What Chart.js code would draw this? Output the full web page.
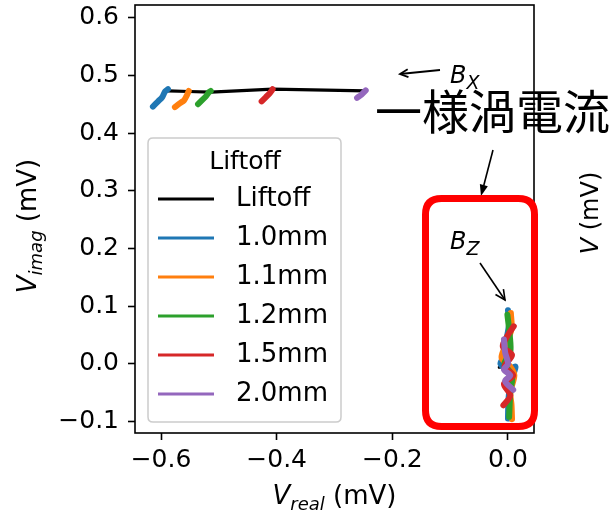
<!DOCTYPE html>
<html><head><meta charset="utf-8">
<script src="https://cdn.jsdelivr.net/npm/chart.js@4.4.0/dist/chart.umd.min.js"></script>
<style>html,body{margin:0;padding:0;background:#fff;} #wrap{width:615px;height:512px;position:relative;}</style>
</head><body><div id="wrap"><canvas id="c" width="615" height="512"></canvas></div>
<script>
// ---- data ----
const seriesNames = ['1.0mm','1.1mm','1.2mm','1.5mm','2.0mm'];
const seriesColors = ['#1f77b4','#ff7f0e','#2ca02c','#d62728','#9467bd'];
const liftoffName = 'Liftoff';
const liftoffBx = [[-0.588,0.473],[-0.552,0.472],[-0.514,0.471],[-0.407,0.476],[-0.246,0.473]];
const liftoffBz = [[-0.015,-0.006],[-0.011,-0.005],[-0.005,-0.003],[0.000,-0.002],[0.004,-0.002]];
const bx_10 = [[-0.614,0.446],[-0.605,0.455],[-0.598,0.462],[-0.593,0.472],[-0.588,0.476]];
const bx_11 = [[-0.576,0.445],[-0.567,0.452],[-0.560,0.457],[-0.555,0.466],[-0.552,0.473]];
const bx_12 = [[-0.536,0.450],[-0.529,0.457],[-0.522,0.464],[-0.517,0.471],[-0.514,0.473]];
const bx_15 = [[-0.426,0.455],[-0.419,0.462],[-0.412,0.469],[-0.407,0.476]];
const bx_20 = [[-0.261,0.461],[-0.253,0.467],[-0.246,0.474]];
const bz_10 = [[0.000,0.093],[0.002,0.070],[-0.003,0.040],[-0.006,0.015],[-0.013,0.000],[0.000,-0.010],[0.013,-0.005],[0.005,-0.030],[0.001,-0.060],[0.000,-0.095]];
const bz_11 = [[0.005,0.088],[0.006,0.060],[-0.005,0.030],[-0.011,0.010],[0.004,-0.005],[0.011,-0.020],[0.004,-0.050],[0.006,-0.070],[0.007,-0.096]];
const bz_12 = [[-0.001,0.085],[0.003,0.050],[0.004,0.020],[-0.006,0.000],[0.007,-0.020],[0.004,-0.050],[0.002,-0.092]];
const bz_15 = [[0.010,0.065],[0.000,0.050],[-0.009,0.030],[0.007,0.015],[-0.006,-0.005],[0.009,-0.020],[-0.007,-0.035],[0.004,-0.055],[-0.008,-0.072]];
const bz_20 = [[-0.007,0.042],[-0.005,0.020],[0.000,0.000],[-0.007,-0.010],[0.004,-0.020],[-0.005,-0.030],[0.009,-0.045]];
const bxSeries = [bx_10, bx_11, bx_12, bx_15, bx_20];
const bzSeries = [bz_10, bz_11, bz_12, bz_15, bz_20];
const xTickVals = [-0.6,-0.4,-0.2,0.0];
const xTickLabels = ['\u22120.6','\u22120.4','\u22120.2','0.0'];
const yTickVals = [-0.1,0.0,0.1,0.2,0.3,0.4,0.5,0.6];
const yTickLabels = ['\u22120.1','0.0','0.1','0.2','0.3','0.4','0.5','0.6'];
const xRange = [-0.645, 0.045];
const yRange = [-0.12, 0.622];

// ---- build ----
const toPts = arr => arr.map(p => ({x:p[0], y:p[1]}));
const datasets = [];
const lineBase = {showLine:true, pointRadius:0, borderCapStyle:'round', borderJoinStyle:'round', tension:0.3, fill:false};
datasets.push(Object.assign({}, lineBase, {label:liftoffName, data:toPts(liftoffBx), borderColor:'#000', borderWidth:3.2, order:10, tension:0}));
datasets.push(Object.assign({}, lineBase, {label:liftoffName+'_z', data:toPts(liftoffBz), borderColor:'#000', borderWidth:3.2, order:10, tension:0}));
seriesNames.forEach((n,i)=>{
  datasets.push(Object.assign({}, lineBase, {label:n, data:toPts(bxSeries[i]), borderColor:seriesColors[i], borderWidth:6, order:5-i}));
  datasets.push(Object.assign({}, lineBase, {label:n+'_z', data:toPts(bzSeries[i]), borderColor:seriesColors[i], borderWidth:6, order:5-i}));
});

const FONT = 'DejaVu Sans';
function drawMath(ctx, parts, x, y, align){
  let w = 0;
  parts.forEach(p=>{ ctx.font=(p.italic?'italic ':'')+p.size+'px '+FONT; w+=ctx.measureText(p.t).width; });
  let cx = align==='center' ? x - w/2 : x;
  ctx.textAlign='left'; ctx.textBaseline='alphabetic';
  parts.forEach(p=>{ ctx.font=(p.italic?'italic ':'')+p.size+'px '+FONT; ctx.fillText(p.t, cx, y+(p.dy||0)); cx+=ctx.measureText(p.t).width; });
}
function arrowOpen(ctx, x1,y1,x2,y2, head){
  ctx.beginPath(); ctx.moveTo(x1,y1); ctx.lineTo(x2,y2); ctx.stroke();
  const ang = Math.atan2(y2-y1, x2-x1);
  ctx.beginPath();
  ctx.moveTo(x2 - head*Math.cos(ang-0.45), y2 - head*Math.sin(ang-0.45));
  ctx.lineTo(x2,y2);
  ctx.lineTo(x2 - head*Math.cos(ang+0.45), y2 - head*Math.sin(ang+0.45));
  ctx.stroke();
}
function arrowFilled(ctx, x1,y1,x2,y2, head){
  const ang = Math.atan2(y2-y1, x2-x1);
  ctx.beginPath(); ctx.moveTo(x1,y1); ctx.lineTo(x2 - head*0.8*Math.cos(ang), y2 - head*0.8*Math.sin(ang)); ctx.stroke();
  ctx.beginPath();
  ctx.moveTo(x2,y2);
  ctx.lineTo(x2 - head*Math.cos(ang-0.35), y2 - head*Math.sin(ang-0.35));
  ctx.lineTo(x2 - head*Math.cos(ang+0.35), y2 - head*Math.sin(ang+0.35));
  ctx.closePath(); ctx.fill();
}
function roundRect(ctx,x,y,w,h,r){
  ctx.beginPath();
  ctx.moveTo(x+r,y); ctx.lineTo(x+w-r,y); ctx.quadraticCurveTo(x+w,y,x+w,y+r);
  ctx.lineTo(x+w,y+h-r); ctx.quadraticCurveTo(x+w,y+h,x+w-r,y+h);
  ctx.lineTo(x+r,y+h); ctx.quadraticCurveTo(x,y+h,x,y+h-r);
  ctx.lineTo(x,y+r); ctx.quadraticCurveTo(x,y,x+r,y); ctx.closePath();
}

const deco = {
  id:'deco',
  afterDraw(chart){
    const ctx = chart.ctx, a = chart.chartArea;
    ctx.save();
    // frame
    ctx.strokeStyle='#000'; ctx.lineWidth=1.6;
    ctx.strokeRect(a.left, a.top, a.right-a.left, a.bottom-a.top);
    // legend
    ctx.fillStyle='rgba(255,255,255,0.8)'; ctx.strokeStyle='#cccccc'; ctx.lineWidth=1.5;
    roundRect(ctx,148,138,193,284,5); ctx.fill(); ctx.stroke();
    ctx.fillStyle='#000'; ctx.font='25px '+FONT; ctx.textAlign='center'; ctx.textBaseline='middle';
    ctx.fillText(liftoffName, 245, 162);
    const names=[liftoffName].concat(seriesNames), cols=['#000'].concat(seriesColors);
    names.forEach((n,i)=>{
      const yy = 199 + i*39;
      ctx.strokeStyle=cols[i]; ctx.lineWidth=3.2; ctx.lineCap='butt';
      ctx.beginPath(); ctx.moveTo(158,yy); ctx.lineTo(214,yy); ctx.stroke();
      ctx.fillStyle='#000'; ctx.textAlign='left'; ctx.textBaseline='middle'; ctx.font='26px '+FONT;
      ctx.fillText(n, 236, yy);
    });
    // axis titles
    ctx.fillStyle='#000';
    drawMath(ctx,[{t:'V',size:26,italic:true},{t:'real',size:18,italic:true,dy:6},{t:' (mV)',size:26}], (a.left+a.right)/2, 504, 'center');
    ctx.save(); ctx.translate(36,226); ctx.rotate(-Math.PI/2);
    drawMath(ctx,[{t:'V',size:26,italic:true},{t:'imag',size:18,italic:true,dy:6},{t:' (mV)',size:26}], 0, 0, 'center');
    ctx.restore();
    ctx.save(); ctx.translate(598,213); ctx.rotate(-Math.PI/2);
    drawMath(ctx,[{t:'V',size:24,italic:true},{t:' (mV)',size:24}], 0, 0, 'center');
    ctx.restore();
    // annotations
    ctx.strokeStyle='#000'; ctx.fillStyle='#000'; ctx.lineWidth=1.8; ctx.lineCap='butt';
    arrowOpen(ctx, 440,70, 400,74, 9);
    drawMath(ctx,[{t:'B',size:24,italic:true},{t:'X',size:19,italic:true,dy:6}], 450, 83, 'left');
    ctx.font='47px "Noto Sans CJK JP"'; ctx.textAlign='left'; ctx.textBaseline='middle';
    ctx.fillText('一様渦電流', 375, 111);
    ctx.lineWidth=1.6;
    arrowFilled(ctx, 493,150, 481,196, 12);
    drawMath(ctx,[{t:'B',size:24,italic:true},{t:'Z',size:19,italic:true,dy:6}], 450, 249, 'left');
    arrowOpen(ctx, 480,263, 505,300, 11);
    // red box
    ctx.strokeStyle='#ff0000'; ctx.lineWidth=7;
    roundRect(ctx,425.5,198.5,109,228,16); ctx.stroke();
    ctx.restore();
  }
};

Chart.defaults.font.family = FONT;
new Chart(document.getElementById('c'), {
  type:'scatter',
  data:{datasets},
  plugins:[deco],
  options:{
    responsive:false, animation:false,
    layout:{padding:{top:5,right:81,bottom:0,left:0}},
    plugins:{legend:{display:false}, tooltip:{enabled:false}},
    scales:{
      x:{type:'linear', min:xRange[0], max:xRange[1],
        afterBuildTicks:s=>{ s.ticks = xTickVals.map(v=>({value:v})); },
        afterFit:s=>{ s.height = 79; s.paddingLeft = 0; s.paddingRight = 0; },
        ticks:{autoSkip:false, maxRotation:0, color:'#000', font:{size:25}, padding:5,
          callback:(v,i)=>xTickLabels[i]},
        grid:{display:true, drawOnChartArea:false, drawTicks:true, tickLength:7, tickWidth:1.6, tickColor:'#000'},
        border:{display:false}
      },
      y:{type:'linear', min:yRange[0], max:yRange[1],
        afterBuildTicks:s=>{ s.ticks = yTickVals.map(v=>({value:v})); },
        afterFit:s=>{ s.width = 135; s.paddingTop = 0; s.paddingBottom = 0; },
        ticks:{autoSkip:false, color:'#000', font:{size:25}, padding:9,
          callback:(v,i)=>yTickLabels[i]},
        grid:{display:true, drawOnChartArea:false, drawTicks:true, tickLength:7, tickWidth:1.6, tickColor:'#000'},
        border:{display:false}
      }
    }
  }
});
</script></body></html>
